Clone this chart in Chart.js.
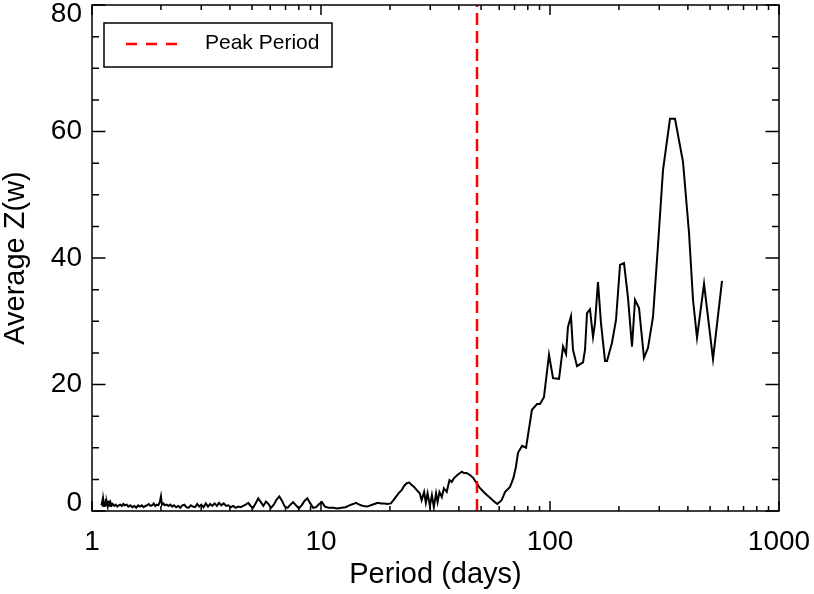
<!DOCTYPE html>
<html>
<head>
<meta charset="utf-8">
<script src="https://cdn.jsdelivr.net/npm/chart.js@4/dist/chart.umd.min.js"></script>
<style>
  html, body { margin: 0; padding: 0; background: #fff; }
  #wrap { width: 814px; height: 594px; }
</style>
</head>
<body>
<div id="wrap"><canvas id="chart" width="814" height="594"></canvas></div>
<script>
// periods (days) and average Z(w)
const periods = [
  1.10, 1.11, 1.115, 1.12, 1.13, 1.135, 1.14, 1.15, 1.155, 1.16, 1.17, 1.175, 1.18, 1.19, 1.20, 1.21, 1.22, 1.23,
  1.25, 1.27, 1.29, 1.31, 1.33, 1.35, 1.37, 1.39, 1.42, 1.44, 1.47, 1.50, 1.53, 1.56, 1.59, 1.62, 1.65, 1.68,
  1.71, 1.74, 1.77, 1.80, 1.83, 1.86, 1.89, 1.92, 1.95, 1.98, 2.00, 2.02, 2.05, 2.08, 2.12, 2.16, 2.20, 2.24,
  2.28, 2.33, 2.38, 2.43, 2.48, 2.53, 2.58, 2.64, 2.70, 2.76, 2.82, 2.88, 2.94, 3.00, 3.07, 3.14, 3.21, 3.28,
  3.35, 3.43, 3.51, 3.59, 3.67, 3.76, 3.85, 3.94, 4.04, 4.14, 4.24, 4.35, 4.46, 4.57, 4.69, 4.81, 4.93, 5.05,
  5.18, 5.32, 5.46, 5.60, 5.75, 5.90, 6.05, 6.22, 6.40, 6.58, 6.76, 6.95, 7.15, 7.35, 7.56, 7.78, 8.00, 8.23,
  8.47, 8.72, 8.98, 9.24, 9.52, 9.80, 10.1, 10.4, 10.8, 11.3, 11.8, 12.3, 12.8, 13.3, 13.8, 14.2, 14.7, 15.3,
  15.9, 16.5, 17.1, 17.7, 18.3, 18.9, 19.5, 20.2, 21.0, 21.8, 22.5, 23.1, 23.7, 24.3, 24.9, 25.5, 26.2, 27.0,
  27.5, 28.2, 28.7, 29.2, 29.9, 30.5, 31.1, 31.8, 32.3, 32.9, 33.7, 34.4, 35.4, 36.4, 37.2, 38.1, 39.4, 41.2,
  42.1, 43.3, 44.7, 46.3, 47.8, 49.5, 52.0, 54.7, 57.5, 58.9, 61.5, 63.6, 66.9, 69.2, 71.0, 72.5, 75.5, 78.6,
  83.4, 87.8, 90.4, 94.1, 99.0, 103.1, 109.5, 114.0, 117.5, 119.8, 123.5, 126.0, 131.2, 139.4, 142.2, 145.1,
  149.5, 154.1, 157.2, 162.0, 167.0, 173.9, 177.4, 186.5, 194.2, 202.2, 210.5, 219.1, 228.1, 235.1, 244.7,
  257.3, 267.9, 281.7, 296.2, 311.5, 334.2, 351.4, 380.9, 404.6, 421.2, 438.5, 470.6, 515.0, 563.8
];
const avgZ = [
  0.9, 1.6, 0.7, 1.8, 0.8, 1.5, 1.0, 1.9, 0.9, 1.4, 0.8, 1.6, 1.0, 1.3, 0.8, 1.2, 0.9, 1.1,
  0.8, 1.0, 0.7, 0.9, 1.0, 0.8, 1.1, 0.9, 1.0, 0.7, 0.9, 0.6, 0.8, 0.5, 0.9, 0.7, 0.9, 0.6,
  0.8, 0.9, 1.1, 0.8, 0.9, 1.2, 0.8, 1.0, 0.9, 1.5, 2.3, 1.0, 1.2, 0.9, 1.0, 0.8, 1.0, 0.7,
  0.9, 0.6, 0.8, 0.5, 0.9, 1.0, 0.6, 0.5, 0.9, 0.7, 0.6, 1.1, 0.7, 1.0, 0.6, 1.2, 0.7, 1.1,
  0.8, 1.2, 0.8, 1.3, 0.9, 1.2, 0.8, 0.9, 0.6, 0.8, 0.5, 0.7, 0.6, 0.8, 1.0, 1.3, 0.8, 0.5,
  1.2, 2.0, 1.4, 0.8, 1.5, 1.1, 0.5, 1.0, 1.8, 2.3, 1.6, 0.7, 0.5, 1.0, 1.4, 0.9, 0.4, 0.9,
  1.6, 2.0, 1.2, 0.5, 0.6, 1.1, 1.4, 0.7, 0.5, 0.5, 0.4, 0.5, 0.6, 0.9, 1.1, 1.3, 1.0, 0.8,
  0.7, 0.9, 1.1, 1.3, 1.2, 1.2, 1.1, 1.2, 2.0, 2.8, 3.3, 4.0, 4.4, 4.5, 4.1, 3.8, 3.3, 2.8,
  1.7, 3.0, 1.3, 2.8, 0.8, 2.5, 0.6, 2.8, 1.4, 3.0, 2.2, 3.6, 3.0, 4.9, 4.6, 5.2, 5.7, 6.2,
  6.0, 6.0, 5.7, 5.2, 4.4, 3.6, 2.8, 2.1, 1.4, 1.1, 1.7, 3.0, 3.8, 5.2, 7.0, 9.2, 10.3, 10.0,
  16.0, 16.9, 16.9, 18.0, 24.7, 21.0, 20.9, 26.0, 24.8, 29.1, 30.8, 25.5, 22.9, 23.5, 25.5, 31.3,
  31.9, 27.5, 29.7, 36.2, 29.7, 23.7, 23.7, 26.6, 30.2, 38.9, 39.2, 33.7, 26.0, 33.4, 32.1,
  24.2, 25.8, 30.7, 42.0, 53.9, 62.0, 62.0, 55.2, 44.0, 33.4, 27.4, 35.9, 24.0, 36.4
];
const peakPeriod = 48;
const peakLabel = 'Peak Period';

const xRange = [1, 1000];
const yRange = [0, 80];
const xLabelTicks = [1, 10, 100, 1000];
const xMinorTicks = [2, 3, 4, 5, 6, 7, 8, 9, 20, 30, 40, 50, 60, 70, 80, 90, 200, 300, 400, 500, 600, 700, 800, 900];
const yLabelTicks = [0, 20, 40, 60, 80];
const yMinorTicks = [5, 10, 15, 25, 30, 35, 45, 50, 55, 65, 70, 75];

const FONT = "'Liberation Sans', Arial, Helvetica, sans-serif";

// IDL-style box: frame, inward ticks on all four sides, y labels kept inside the canvas, boxed legend
const idlFrame = {
  id: 'idlFrame',
  afterDraw(chart) {
    const { ctx, chartArea: a, scales: { x, y } } = chart;
    ctx.save();
    ctx.strokeStyle = '#000';
    ctx.lineWidth = 1.5;
    ctx.strokeRect(a.left, a.top, a.right - a.left, a.bottom - a.top);

    ctx.beginPath();
    const xTick = (v, len) => {
      const px = x.getPixelForValue(v);
      ctx.moveTo(px, a.bottom); ctx.lineTo(px, a.bottom - len);
      ctx.moveTo(px, a.top); ctx.lineTo(px, a.top + len);
    };
    const yTick = (v, len) => {
      const py = y.getPixelForValue(v);
      ctx.moveTo(a.left, py); ctx.lineTo(a.left + len, py);
      ctx.moveTo(a.right, py); ctx.lineTo(a.right - len, py);
    };
    xLabelTicks.forEach((v) => xTick(v, 10));
    xMinorTicks.forEach((v) => xTick(v, 5));
    yLabelTicks.forEach((v) => yTick(v, 13.5));
    yMinorTicks.forEach((v) => yTick(v, 7));
    ctx.stroke();

    ctx.fillStyle = '#000';
    ctx.font = `28px ${FONT}`;
    ctx.textAlign = 'right';
    ctx.textBaseline = 'middle';
    yLabelTicks.forEach((v) => {
      const py = Math.min(Math.max(y.getPixelForValue(v), a.top + 9), a.bottom - 8);
      ctx.fillText(String(v), a.left - 10, py);
    });

    // legend
    const lx = a.left + 12, ly = a.top + 18;
    ctx.lineWidth = 1.5;
    ctx.strokeRect(lx, ly, 228, 44);
    ctx.strokeStyle = '#ff0000';
    ctx.lineWidth = 2.5;
    ctx.setLineDash([11, 9]);
    ctx.beginPath();
    ctx.moveTo(lx + 22, ly + 21);
    ctx.lineTo(lx + 82, ly + 21);
    ctx.stroke();
    ctx.setLineDash([]);
    ctx.font = `21px ${FONT}`;
    ctx.textAlign = 'left';
    ctx.fillText(peakLabel, lx + 101, ly + 20);
    ctx.restore();
  },
};

new Chart(document.getElementById('chart'), {
  type: 'line',
  data: {
    datasets: [
      {
        label: peakLabel,
        data: yRange.map((v) => ({ x: peakPeriod, y: v })),
        borderColor: '#ff0000',
        borderWidth: 2.5,
        borderDash: [12, 6],
        pointRadius: 0,
        order: 0,
      },
      {
        label: 'Average Z(w)',
        data: periods.map((p, i) => ({ x: p, y: avgZ[i] })),
        borderColor: '#000',
        borderWidth: 2,
        pointRadius: 0,
        tension: 0,
        order: 1,
      },
    ],
  },
  options: {
    responsive: false,
    animation: false,
    events: [],
    layout: { padding: { top: 5, right: 35, left: 0, bottom: 0 } },
    plugins: { legend: { display: false }, tooltip: { enabled: false } },
    scales: {
      x: {
        type: 'logarithmic',
        min: xRange[0],
        max: xRange[1],
        afterBuildTicks: (s) => { s.ticks = xLabelTicks.map((v) => ({ value: v })); },
        afterFit: (s) => { s.height = 83; s.paddingLeft = 0; s.paddingRight = 0; },
        grid: { display: false, drawTicks: false },
        border: { display: false },
        ticks: {
          autoSkip: false,
          maxRotation: 0,
          padding: 14,
          color: '#000',
          font: { family: FONT, size: 28 },
          callback: (v) => String(v),
        },
        title: {
          display: true,
          text: 'Period (days)',
          color: '#000',
          font: { family: FONT, size: 29, lineHeight: 1 },
          padding: { top: 0, bottom: 5 },
        },
      },
      y: {
        min: yRange[0],
        max: yRange[1],
        afterFit: (s) => { s.width = 92; },
        grid: { display: false, drawTicks: false },
        border: { display: false },
        ticks: { display: false },
        title: {
          display: true,
          text: 'Average Z(w)',
          color: '#000',
          font: { family: FONT, size: 29, lineHeight: 1 },
          padding: { top: 1.5, bottom: 0 },
        },
      },
    },
  },
  plugins: [idlFrame],
});
</script>
</body>
</html>
